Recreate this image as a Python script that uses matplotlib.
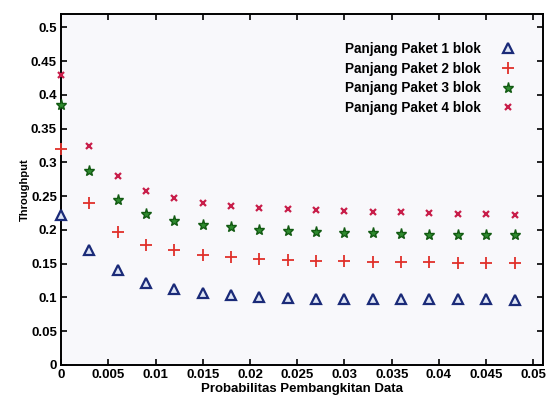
import numpy as np
import matplotlib
matplotlib.use("Agg")
from matplotlib import pyplot as plt

plt.rcParams['font.family'] = ['Liberation Sans', 'DejaVu Sans']
plt.rcParams['font.weight'] = 'bold'

prob = [0, 0.003, 0.006, 0.009, 0.012, 0.015, 0.018, 0.021, 0.024,
        0.027, 0.030, 0.033, 0.036, 0.039, 0.042, 0.045, 0.048]
blok1 = [0.222, 0.170, 0.140, 0.122, 0.112, 0.106, 0.103, 0.101, 0.099,
         0.098, 0.098, 0.098, 0.097, 0.097, 0.097, 0.097, 0.096]
blok2 = [0.320, 0.240, 0.197, 0.178, 0.170, 0.163, 0.160, 0.157, 0.155,
         0.154, 0.154, 0.153, 0.152, 0.152, 0.151, 0.151, 0.151]
blok3 = [0.385, 0.288, 0.245, 0.224, 0.214, 0.208, 0.204, 0.200, 0.198,
         0.197, 0.195, 0.195, 0.194, 0.193, 0.193, 0.193, 0.193]
blok4 = [0.430, 0.325, 0.280, 0.258, 0.247, 0.240, 0.236, 0.233, 0.231,
         0.229, 0.228, 0.227, 0.226, 0.225, 0.224, 0.224, 0.222]
labels = ['Panjang Paket 1 blok', 'Panjang Paket 2 blok',
          'Panjang Paket 3 blok', 'Panjang Paket 4 blok']

fig = plt.figure(figsize=(5.5, 3.98), dpi=100)
ax = fig.add_axes([0.111, 0.083, 0.876, 0.882])
ax.set_facecolor('#f8f8fb')

ax.plot(prob, blok1, linestyle='none', marker='^', ms=7, mfc='#dfe6f5',
        mec='#1a2a78', mew=1.6, label=labels[0], clip_on=False, zorder=3)
ax.plot(prob, blok2, linestyle='none', marker='+', ms=8, mec='#e0302a',
        mew=1.3, label=labels[1], clip_on=False, zorder=3)
ax.plot(prob, blok3, linestyle='none', marker='*', ms=8, mfc='#2e8b2e',
        mec='#125a12', mew=1.0, label=labels[2], clip_on=False, zorder=3)
ax.plot(prob, blok4, linestyle='none', marker='x', ms=4.5, mec='#c81e4a',
        mew=1.6, label=labels[3], clip_on=False, zorder=3)

ax.set_xlim(0, 0.051)
ax.set_ylim(0, 0.52)
ax.set_xticks(np.arange(0, 0.0501, 0.005))
ax.set_xticklabels(['0', '0.005', '0.01', '0.015', '0.02', '0.025', '0.03',
                    '0.035', '0.04', '0.045', '0.05'])
ax.set_yticks(np.arange(0, 0.501, 0.05))
ax.set_yticklabels(['0', '0.05', '0.1', '0.15', '0.2', '0.25', '0.3',
                    '0.35', '0.4', '0.45', '0.5'])
ax.tick_params(direction='in', top=True, right=True, labelsize=9.5,
               length=4, width=1.2, pad=3)
for s in ax.spines.values():
    s.set_linewidth(1.4)

ax.set_xlabel('Probabilitas Pembangkitan Data', fontsize=9.5,
              fontweight='bold', labelpad=1)
ax.set_ylabel('Throughput', fontsize=8, fontweight='bold', labelpad=1)

leg = ax.legend(loc='upper right', frameon=False, markerfirst=False,
                fontsize=9.8, bbox_to_anchor=(0.975, 0.955), handletextpad=1.3,
                labelspacing=0.42, handlelength=1.5)
for t in leg.get_texts():
    t.set_fontweight('bold')

fig.savefig('out.png', dpi=100)
